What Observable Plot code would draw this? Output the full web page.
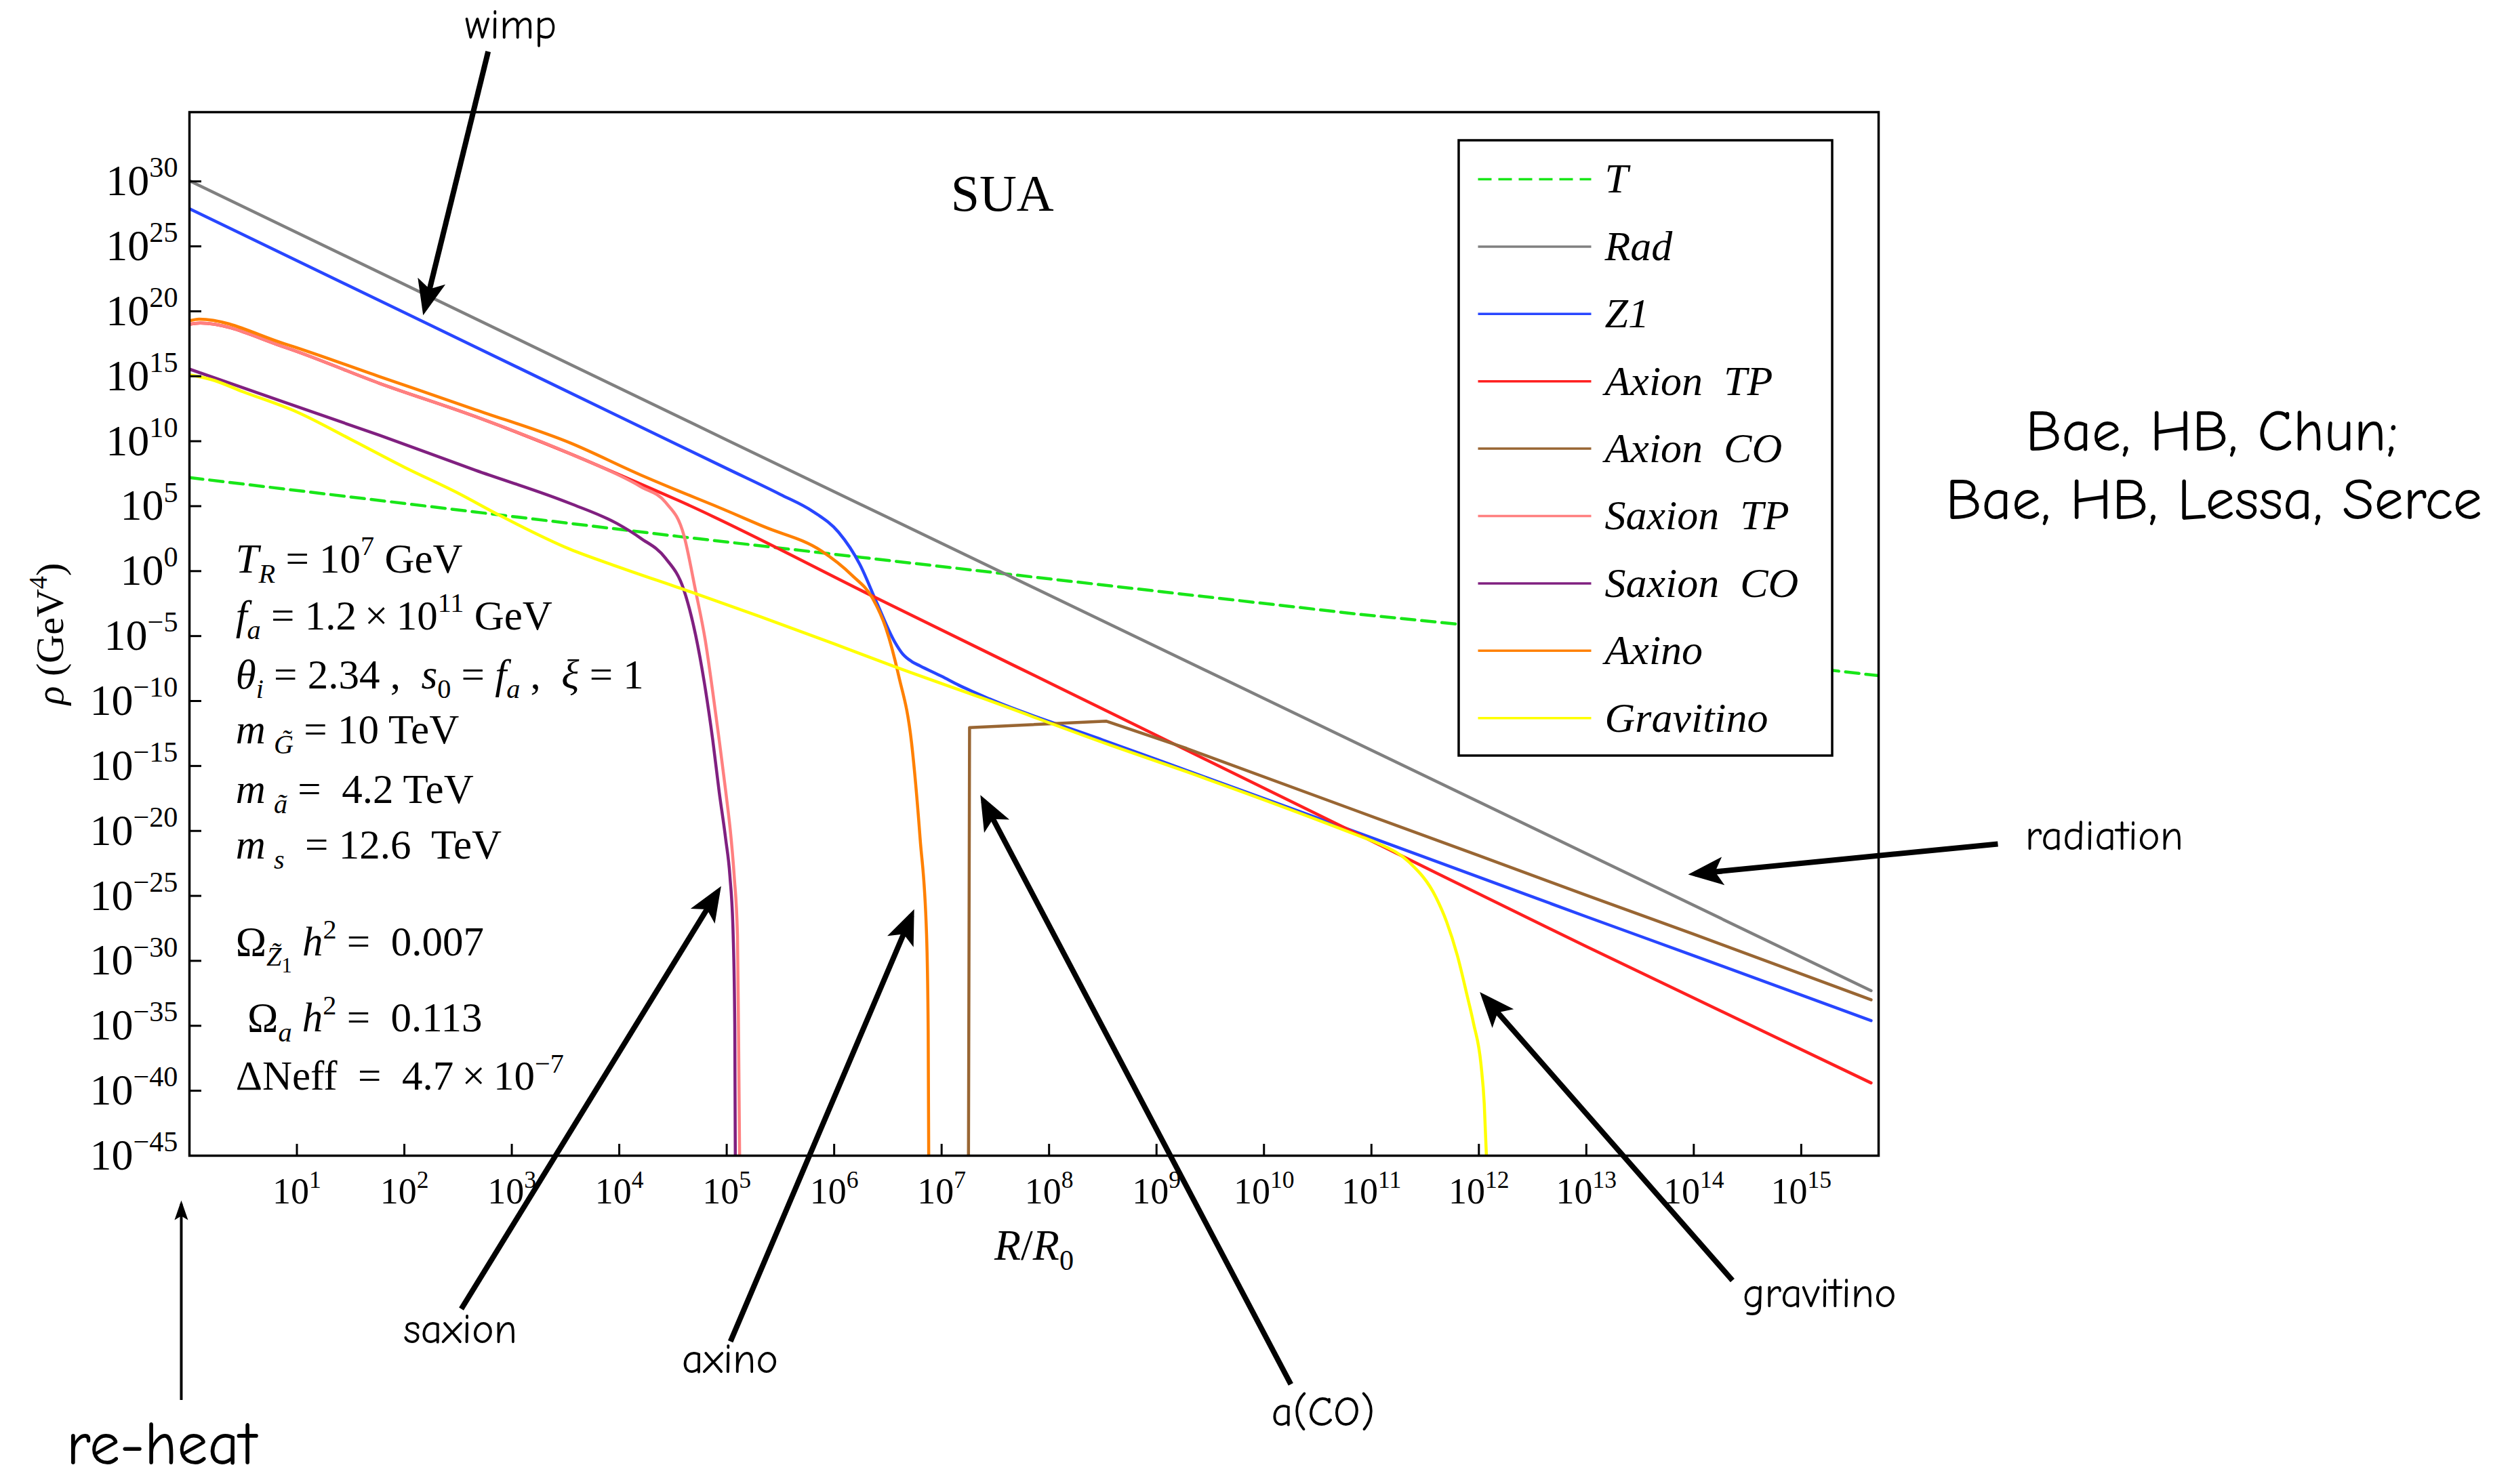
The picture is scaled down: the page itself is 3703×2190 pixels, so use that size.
<!DOCTYPE html>
<html>
<head>
<meta charset="utf-8">
<script src="https://cdn.jsdelivr.net/npm/d3@7"></script>
<script src="https://cdn.jsdelivr.net/npm/@observablehq/plot@0.6"></script>
<style>
html, body { margin: 0; padding: 0; background: #fff; }
#chart svg { display: block; }
</style>
</head>
<body>
<div id="chart"></div>
<script>
// ---------------- tick labels (exponents of 10) ----------------
const xTickExps = [1, 2, 3, 4, 5, 6, 7, 8, 9, 10, 11, 12, 13, 14, 15];
const yTickExps = [30, 25, 20, 15, 10, 5, 0, -5, -10, -15, -20, -25, -30, -35, -40, -45];

// ---------------- series: log10(R/R0) and log10(rho / GeV^4) ----------------
const tLogR      = [0, 4.55, 10.86, 11.82, 15.3, 15.72];
const tLogRho    = [7.2, 2.67, -3.3, -4.1, -7.65, -8.05];

const radLogR    = [0, 5, 10, 15.65];
const radLogRho  = [30.05, 10.1, -9.8, -32.3];

const z1LogR     = [0, 2, 4, 5, 5.5, 5.8, 6.04, 6.24, 6.4, 6.56, 6.64, 6.72, 6.8, 7.0, 7.16, 7.45, 8.5, 10, 11.06, 12, 13, 14, 15.65];
const z1LogRho   = [27.9, 19.9, 11.9, 7.9, 5.9, 4.6, 3.0, 0.5, -2.5, -5.4, -6.4, -6.95, -7.3, -8.1, -8.78, -9.85, -13.0, -17.5, -20.7, -23.55, -26.6, -29.6, -34.6];

const axTPLogR   = [0, 0.1, 0.885, 1.77, 2.66, 3.54, 4.2, 4.55, 6.4, 8.57, 10.86, 13, 15.65];
const axTPLogRho = [19.0, 19.1, 17.24, 14.45, 11.9, 9.05, 6.7, 5.44, -2.1, -10.9, -20.2, -28.9, -39.4];

const axCOLogR   = [7.25, 7.26, 8.53, 9.28, 10.86, 12, 13, 14, 15.65];
const axCOLogRho = [-45, -12.05, -11.55, -13.65, -18.45, -21.9, -24.95, -27.95, -33.0];

const saxTPLogR   = [0, 0.1, 0.885, 1.77, 2.66, 3.54, 4.2, 4.43, 4.6, 4.71, 4.8, 4.87, 4.93, 4.99, 5.04, 5.07, 5.1, 5.11, 5.12];
const saxTPLogRho = [19.0, 19.1, 17.24, 14.45, 11.9, 9.05, 6.5, 5.3, 2.8, -1.5, -5.3, -9.3, -13.0, -16.9, -20.5, -23.5, -28.0, -35.4, -45];

const saxCOLogR   = [0, 0.885, 1.77, 2.66, 3.54, 3.98, 4.2, 4.43, 4.6, 4.71, 4.79, 4.87, 4.93, 4.99, 5.03, 5.06, 5.075, 5.08];
const saxCOLogRho = [15.55, 13.0, 10.45, 7.77, 5.22, 3.66, 2.53, 1.0, -1.42, -4.9, -8.5, -13.0, -17.0, -20.6, -23.5, -28.0, -35.0, -45];

const axinoLogR   = [0, 0.09, 0.885, 1.77, 2.66, 3.54, 4.2, 4.55, 4.87, 5.35, 5.88, 6.16, 6.36, 6.48, 6.6, 6.72, 6.8, 6.86, 6.875, 6.88];
const axinoLogRho = [19.27, 19.4, 17.5, 14.97, 12.43, 9.88, 7.4, 6.18, 5.1, 3.41, 1.56, -0.28, -2.13, -4.35, -8.04, -13.2, -20.6, -28.0, -35.4, -45];

const gravLogR    = [0, 0.2, 0.5, 1, 1.5, 2, 2.5, 2.88, 3.54, 4.0, 4.63, 5.31, 6.0, 6.56, 7.37, 8.57, 9.28, 10.86, 11.06, 11.35, 11.6, 11.7, 11.8, 11.89, 11.95, 12.02, 12.05, 12.07];
const gravLogRho  = [15.1, 14.75, 13.8, 12.25, 10.15, 8.0, 6.0, 4.32, 1.69, 0.3, -1.5, -3.5, -5.6, -7.35, -9.75, -13.4, -15.45, -20.3, -20.95, -22.4, -25.1, -27.0, -29.6, -32.65, -34.8, -38.0, -41.0, -45];

const seriesNames  = ["T", "Rad", "Z1", "Axion\u00a0\u00a0TP", "Axion\u00a0\u00a0CO", "Saxion\u00a0\u00a0TP", "Saxion\u00a0\u00a0CO", "Axino", "Gravitino"];
const seriesColors = ["#18e618", "#808080", "#2846ff", "#ff2020", "#996633", "#ff8080", "#802080", "#ff8000", "#ffff00"];
const seriesLogR   = [tLogR, radLogR, z1LogR, axTPLogR, axCOLogR, saxTPLogR, saxCOLogR, axinoLogR, gravLogR];
const seriesLogRho = [tLogRho, radLogRho, z1LogRho, axTPLogRho, axCOLogRho, saxTPLogRho, saxCOLogRho, axinoLogRho, gravLogRho];

// ---------------- text inside the plot ----------------
const titleText = "SUA";
const titleLogR = 7.565, titleLogRho = 27.72;

const paramLines = [
  "*T*_{*R*} = 10^{7} GeV",
  "*f*_{*a*} = 1.2\u2009×\u200910^{11} GeV",
  "*θ*_{*i*} = 2.34 ,\u00a0 *s*_{0} = *f*_{*a*} ,\u00a0 *ξ* = 1",
  "*m*\u2009_{*G\u0303*} = 10 TeV",
  "*m*\u2009_{*ã*} = \u00a04.2 TeV",
  "*m*\u2009_{*s*}\u00a0 = 12.6\u00a0 TeV",
  "Ω_{*Z\u0303*}__{1} *h*^{2} = \u00a00.007",
  "Ω_{*a*} *h*^{2} = \u00a00.113",
  "ΔNeff\u00a0 = \u00a04.7\u2009×\u200910^{−7}"
];
const paramLogR   = [0.43, 0.43, 0.43, 0.43, 0.43, 0.43, 0.43, 0.54, 0.43];
const paramLogRho = [-0.12, -4.47, -9.01, -13.28, -17.87, -22.15, -29.61, -35.45, -39.94];

// ---------------- annotations (arrows point at features, in data units) ----------------
const noteLabels     = ["wimp", "radiation", "gravitino", "a(CO)", "axino", "saxion"];
const noteTailLogR   = [2.78, 16.83, 14.36, 10.25, 5.035, 2.53];
const noteTailLogRho = [40.0, -21.0, -54.6, -62.6, -59.3, -56.8];
const noteTipLogR    = [2.19, 14.01, 12.05, 7.39, 6.72, 4.915];
const noteTipLogRho  = [20.2, -23.3, -32.8, -17.7, -26.5, -24.7];
const noteTextLogR   = [2.99, 17.82, 15.17, 10.55, 5.03, 2.52];
const noteTextLogRho = [40.97, -21.47, -56.68, -65.81, -61.74, -59.4];

const reheatLabel = "re-heat";
const reheatTailLogR = -0.076, reheatTailLogRho = -63.8;
const reheatTipLogR = -0.076, reheatTipLogRho = -48.7;
const reheatTextLogR = -0.26, reheatTextLogRho = -68.75;

const creditLines = ["Bae, HB, Chun;", "Bae, HB, Lessa, Serce"];
const creditLogR = [18.82, 18.84];
const creditLogRho = [9.3, 4.03];

// ---------------- layout ----------------
const W = 3703, H = 2190;
const M = {left: 279, right: 932, top: 165, bottom: 485};
const xDomain = [1, 10 ** 15.72];
const yDomain = [1e-45, 10 ** 35.33];
const sx = d3.scaleLog(xDomain, [M.left, W - M.right]);
const sy = d3.scaleLog(yDomain, [H - M.bottom, M.top]);
const LEG = {x1: 2152, x2: 2703, y1: 207, y2: 1115, row0: 264, rowStep: 99.4, lineX1: 2180, lineX2: 2347, textX: 2367};
const frameW = W - M.left - M.right, frameH = H - M.top - M.bottom;

const serif = "'Liberation Serif', 'Times New Roman', Times, serif";
const comic = "'Comic Sans MS', 'Comic Neue', 'Open Sans', sans-serif";

const pw = (e) => 10 ** e;
const fmtExp = (v) => { const e = Math.round(Math.log10(v)); return "10^{" + (e < 0 ? "\u2212" + (-e) : e) + "}"; };

const curveMarks = seriesNames.map((name, i) => Plot.line(d3.zip(seriesLogR[i], seriesLogRho[i]), {
  x: d => pw(d[0]), y: d => pw(d[1]),
  stroke: seriesColors[i], strokeWidth: 4.5,
  strokeDasharray: i === 0 ? "20,10" : null,
  curve: (i === 0 || i === 1 || i === 4) ? "linear" : "monotone-x",
  clip: true
}));

const legendMarks = seriesNames.flatMap((name, i) => {
  const yv = sy.invert(LEG.row0 + i * LEG.rowStep);
  return [
    Plot.link([name], {x1: () => sx.invert(LEG.lineX1), x2: () => sx.invert(LEG.lineX2), y1: () => yv, y2: () => yv,
      stroke: seriesColors[i], strokeWidth: 3.5, strokeDasharray: i === 0 ? "20,10" : null}),
    Plot.text([name], {x: () => sx.invert(LEG.textX), y: () => yv, text: d => d, textAnchor: "start", lineAnchor: "middle",
      fontSize: 62, fontStyle: "italic", fontFamily: serif, fill: "black"})
  ];
});

const chart = Plot.plot({
  width: W, height: H,
  marginLeft: M.left, marginRight: M.right, marginTop: M.top, marginBottom: M.bottom,
  style: {fontFamily: serif, background: "white", color: "black"},
  x: {type: "log", domain: xDomain},
  y: {type: "log", domain: yDomain},
  marks: [
    ...curveMarks,
    Plot.rect([0], {x1: () => sx.invert(LEG.x1), x2: () => sx.invert(LEG.x2), y1: () => sy.invert(LEG.y2), y2: () => sy.invert(LEG.y1),
      fill: "white", stroke: "black", strokeWidth: 3.5}),
    ...legendMarks,
    Plot.tickY(yTickExps.map(pw), {y: d => d, insetRight: frameW - 18, stroke: "black", strokeWidth: 3}),
    Plot.tickX(xTickExps.map(pw), {x: d => d, insetTop: frameH - 17, stroke: "black", strokeWidth: 3}),
    Plot.frame({stroke: "black", strokeWidth: 3.5}),
    Plot.axisY({ticks: yTickExps.map(pw), tickFormat: fmtExp, tickSize: 0, tickPadding: 17, fontSize: 64, fontFamily: serif, label: null}),
    Plot.axisX({ticks: xTickExps.map(pw), tickFormat: fmtExp, tickSize: 0, tickPadding: 32, fontSize: 54, fontFamily: serif, label: null}),
    Plot.text(["*R*/*R*_{0}"], {frameAnchor: "bottom", dy: 153, text: d => d, lineAnchor: "bottom", textAnchor: "middle", fontSize: 64, fontFamily: serif}),
    Plot.text(["*ρ* (GeV^{4})"], {frameAnchor: "left", dx: -205, rotate: -90, text: d => d, lineAnchor: "middle", textAnchor: "middle", fontSize: 58, fontFamily: serif}),
    Plot.text([titleText], {x: () => pw(titleLogR), y: () => pw(titleLogRho), text: d => d, textAnchor: "middle", lineAnchor: "bottom", fontSize: 76, fontFamily: serif}),
    Plot.text(paramLines, {x: (d, i) => pw(paramLogR[i]), y: (d, i) => pw(paramLogRho[i]), text: d => d, textAnchor: "start", lineAnchor: "bottom", fontSize: 61, fontFamily: serif}),
    // annotations
    Plot.link(noteLabels, {x1: (d, i) => pw(noteTailLogR[i]), y1: (d, i) => pw(noteTailLogRho[i]), x2: (d, i) => pw(noteTipLogR[i]), y2: (d, i) => pw(noteTipLogRho[i]),
      stroke: "#010101", strokeWidth: 8}),
    Plot.link([reheatLabel], {x1: () => pw(reheatTailLogR), y1: () => pw(reheatTailLogRho), x2: () => pw(reheatTipLogR), y2: () => pw(reheatTipLogRho),
      stroke: "#020202", strokeWidth: 4}),
    Plot.text(noteLabels, {x: (d, i) => pw(noteTextLogR[i]), y: (d, i) => pw(noteTextLogRho[i]), text: d => d, textAnchor: "middle", lineAnchor: "bottom", fontSize: 62, fontFamily: comic, fill: "black"}),
    Plot.text([reheatLabel], {x: () => pw(reheatTextLogR), y: () => pw(reheatTextLogRho), text: d => d, textAnchor: "middle", lineAnchor: "bottom", fontSize: 90, fontFamily: comic, fill: "black"}),
    Plot.text(creditLines, {x: (d, i) => pw(creditLogR[i]), y: (d, i) => pw(creditLogRho[i]), text: d => d, textAnchor: "middle", lineAnchor: "bottom", fontSize: 86, fontFamily: comic, fill: "black"})
  ]
});

document.getElementById("chart").appendChild(chart);

// ---------- rich text: *italic*, ^{sup}, _{sub}, __{subsub} ----------
(function richText(svg) {
  const NS = "http://www.w3.org/2000/svg";
  svg.querySelectorAll("text").forEach(t => {
    const s = t.textContent;
    if (!/[*^_]/.test(s)) return;
    const fs = parseFloat(getComputedStyle(t).fontSize) || 60;
    const runs = [];
    let mode = 0, ital = false, buf = "";
    const push = () => { if (buf) runs.push({text: buf, mode, ital}); buf = ""; };
    for (let i = 0; i < s.length; i++) {
      const c = s[i];
      if (c === "_" && s[i + 1] === "_" && s[i + 2] === "{") { push(); mode = -2; i += 2; continue; }
      if ((c === "^" || c === "_") && s[i + 1] === "{") { push(); mode = c === "^" ? 1 : -1; i++; continue; }
      if (c === "}" && mode !== 0) { push(); mode = 0; continue; }
      if (c === "*") { push(); ital = !ital; continue; }
      buf += c;
    }
    push();
    while (t.firstChild) t.removeChild(t.firstChild);
    const offs = {"1": -0.42, "0": 0, "-1": 0.24, "-2": 0.40};
    let cur = 0;
    for (const r of runs) {
      const ts = document.createElementNS(NS, "tspan");
      const off = offs[String(r.mode)] * fs;
      if (Math.abs(off - cur) > 0.01) ts.setAttribute("dy", (off - cur).toFixed(2));
      cur = off;
      if (r.mode !== 0) ts.setAttribute("font-size", (fs * (r.mode === -2 ? 0.5 : 0.66)).toFixed(2));
      if (r.ital) ts.setAttribute("font-style", "italic");
      ts.textContent = r.text;
      t.appendChild(ts);
    }
  });

  // filled, notched arrowheads
  const defs = document.createElementNS(NS, "defs");
  function addMarker(id, d) {
    const m = document.createElementNS(NS, "marker");
    m.setAttribute("id", id);
    m.setAttribute("markerUnits", "userSpaceOnUse");
    m.setAttribute("viewBox", "-70 -35 90 70");
    m.setAttribute("markerWidth", 90);
    m.setAttribute("markerHeight", 70);
    m.setAttribute("refX", 0);
    m.setAttribute("refY", 0);
    m.setAttribute("orient", "auto");
    const p = document.createElementNS(NS, "path");
    p.setAttribute("d", d);
    p.setAttribute("fill", "black");
    m.appendChild(p);
    defs.appendChild(m);
  }
  addMarker("ahBig", "M10,0 L-42,-21 L-30,0 L-42,21 Z");
  addMarker("ahThin", "M5,0 L-24,-10 L-18,0 L-24,10 Z");
  svg.insertBefore(defs, svg.firstChild);
  svg.querySelectorAll('g[stroke="#010101"] path').forEach(p => p.setAttribute("marker-end", "url(#ahBig)"));
  svg.querySelectorAll('g[stroke="#020202"] path').forEach(p => p.setAttribute("marker-end", "url(#ahThin)"));
})(chart);
</script>
</body>
</html>
